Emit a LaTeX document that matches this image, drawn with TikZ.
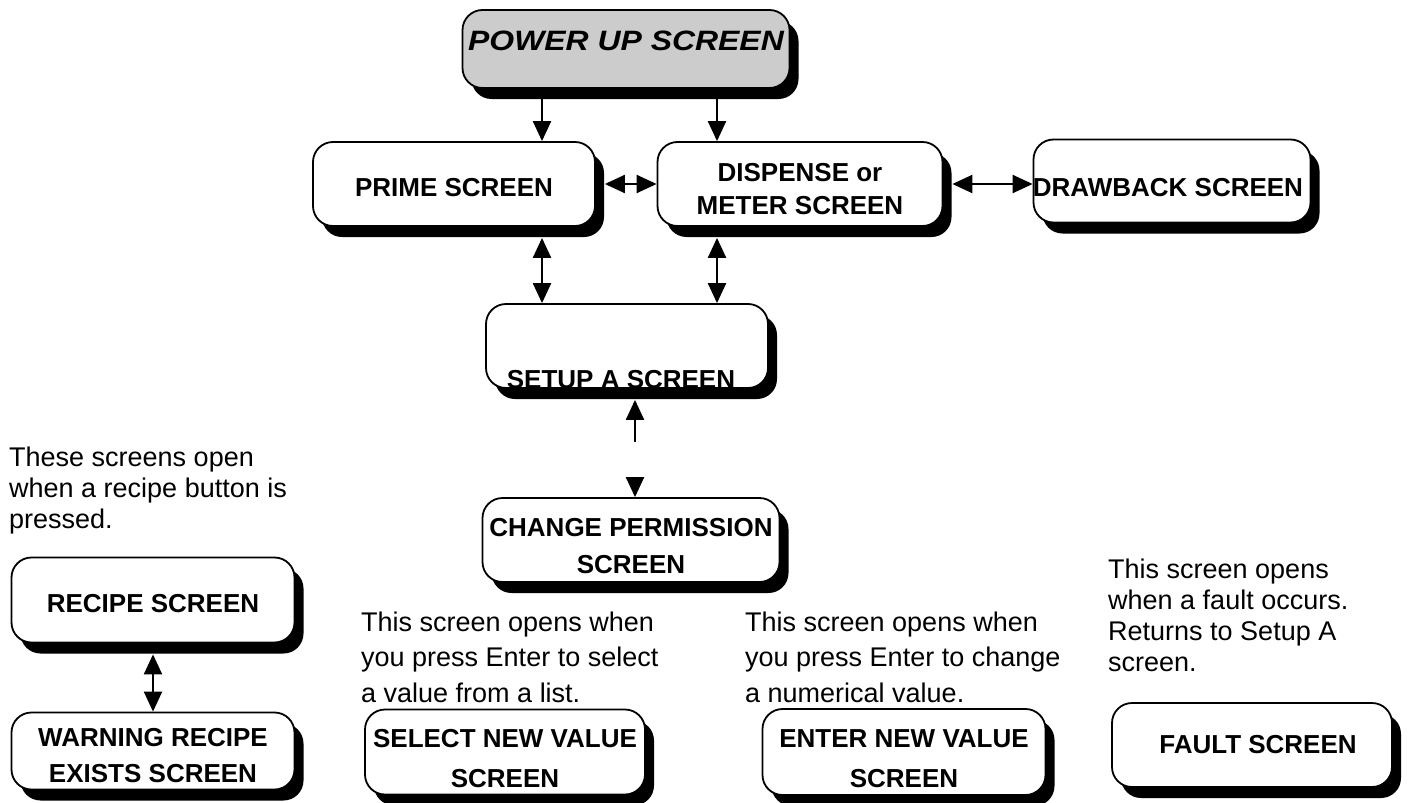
\documentclass[tikz,border=0pt]{standalone}
\usepackage{fontspec}
\setmainfont{Liberation Sans}
\usetikzlibrary{arrows.meta, shadows}
\newcommand{\lowered}[2]{\raisebox{-#1}[\height][\depth]{#2}}
\newcommand{\twoline}[4]{\lowered{#1}{\begin{tabular}{@{}c@{}}#3\\[#2]#4\end{tabular}}}
\tikzstyle{screen} = [rectangle, rounded corners=20pt,
minimum width=282pt,
minimum height=84pt,
inner sep=0pt,
align=center,
draw=black, line width=1.8pt,
fill=white,
font=\fontsize{26}{33}\selectfont\bfseries,
drop shadow={shadow xshift=9pt, shadow yshift=-11pt, fill=black, opacity=1}]
\tikzstyle{note} = [anchor=west, align=left, inner sep=0pt, font=\fontsize{27}{31}\selectfont]
\tikzstyle{arrow} = [line width=2.2pt, -{Triangle[width=18pt,length=20pt]}]
\tikzstyle{dblarrow} = [line width=2.2pt, {Triangle[width=18pt,length=20pt]}-{Triangle[width=18pt,length=20pt]}]
\begin{document}
\begin{tikzpicture}[x=1pt, y=-1pt]
        \useasboundingbox (0,0) rectangle (1409,803);
        % top row
        \node (power) [screen, fill=gray!40, minimum width=327pt, minimum height=78pt,
            font=\fontsize{28}{32}\selectfont\bfseries\itshape] at (626,49)
            {\lowered{-8pt}{\scalebox{1.14}[1]{POWER UP SCREEN}}};
        \node (prime) [screen] at (454,184) {\lowered{4pt}{PRIME SCREEN}};
        \node (dispense) [screen, minimum width=285pt] at (800,184) {\twoline{7pt}{0pt}{DISPENSE or}{METER SCREEN}};
        \node (drawback) [screen, minimum width=277pt, minimum height=83pt] at (1172,181) {\hspace*{-8pt}\lowered{7pt}{DRAWBACK SCREEN}};
        % setup and permission
        \node (setup) [screen] at (627,346) {};
        \node (setuptxt) [font=\fontsize{26}{30}\selectfont\bfseries, inner sep=0pt] at (621,380) {SETUP A SCREEN};
        \node (change) [screen, minimum width=297pt] at (631,540) {\twoline{8pt}{4pt}{CHANGE PERMISSION}{SCREEN}};
        % recipe screens
        \node (recipenote) [note] at (9,491) {These screens open\\when a recipe button is\\pressed.};
        \node (recipe) [screen, minimum width=283pt, minimum height=85pt] at (153,600) {\lowered{4pt}{RECIPE SCREEN}};
        \node (warning) [screen, minimum width=283pt, minimum height=77pt] at (153,751) {\twoline{7pt}{3pt}{WARNING RECIPE}{EXISTS SCREEN}};
        % value screens
        \node (selectnote) [note, font=\fontsize{27}{35.5}\selectfont] at (361,657) {This screen opens when\\you press Enter to select\\a value from a list.};
        \node (select) [screen, minimum width=280pt, minimum height=85pt] at (505,752) {\twoline{9pt}{7pt}{SELECT NEW VALUE}{SCREEN}};
        \node (enternote) [note, font=\fontsize{27}{35.5}\selectfont] at (745,657) {This screen opens when\\you press Enter to change\\a numerical value.};
        \node (enter) [screen, minimum width=283pt, minimum height=86pt] at (904,752) {\twoline{9pt}{7pt}{ENTER NEW VALUE}{SCREEN}};
        % fault screen
        \node (faultnote) [note] at (1108,615) {This screen opens\\when a fault occurs.\\Returns to Setup A\\screen.};
        \node (fault) [screen, minimum width=280pt] at (1252,745) {\hspace*{12pt}FAULT SCREEN};
        % arrow columns
        \coordinate (colA) at (542,0);
        \coordinate (colB) at (717,0);
        \coordinate (gaptop) at (635,442);
        \coordinate (gapbot) at (635,477);
        \draw [arrow] (power.south -| colA) -- (prime.north -| colA);
        \draw [arrow] (power.south -| colB) -- (dispense.north -| colB);
        \draw [dblarrow] ([xshift=9pt]prime.east) -- (dispense.west);
        \draw [dblarrow] ([xshift=9pt]dispense.east) -- (dispense.east -| drawback.west);
        \draw [dblarrow] ([yshift=-11pt]prime.south -| colA) -- (setup.north -| colA);
        \draw [dblarrow] ([yshift=-11pt]dispense.south -| colB) -- (setup.north -| colB);
        \draw [arrow] (gaptop) -- ([yshift=-11pt]setup.south -| gaptop);
        \draw [arrow] (gapbot) -- (change.north -| gapbot);
        \draw [dblarrow] ([yshift=-11pt]recipe.south) -- (warning.north);
\end{tikzpicture}
\end{document}
